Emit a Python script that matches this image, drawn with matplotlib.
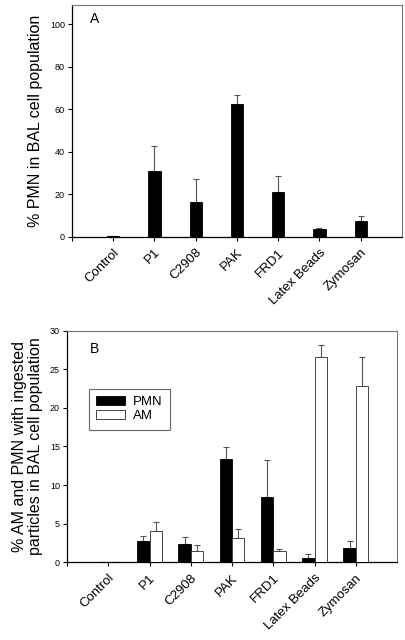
import numpy as np
import matplotlib
matplotlib.use("Agg")
import matplotlib.pyplot as plt

plt.rcParams['font.family'] = ['Liberation Sans', 'DejaVu Sans']

# data
groups = ['Control', 'P1', 'C2908', 'PAK', 'FRD1', 'Latex Beads', 'Zymosan']

pmn_pct = [0.4, 31.0, 16.5, 62.3, 21.3, 3.8, 7.2]
pmn_pct_err = [0.0, 11.9, 10.5, 4.3, 7.1, 0.5, 2.8]

pmn_ingest = [0.0, 2.8, 2.4, 13.4, 8.4, 0.6, 1.8]
pmn_ingest_err = [0.0, 0.65, 0.85, 1.5, 4.8, 0.5, 0.9]
am_ingest = [0.0, 4.1, 1.4, 3.1, 1.4, 26.6, 22.8]
am_ingest_err = [0.0, 1.15, 0.9, 1.2, 0.3, 1.5, 3.8]

x = np.arange(len(groups))
w = 0.3
ecol = '#555555'


def style_axes(ax, ymax, yticks):
    ax.set_xlim(-1, len(groups))
    ax.set_ylim(0, ymax)
    ax.set_yticks(yticks)
    ax.set_xticks(x)
    ax.set_xticks([-1], minor=True)
    ax.set_xticklabels(groups, rotation=45, ha='right', rotation_mode='anchor', fontsize=9.5)
    ax.tick_params(axis='y', labelsize=6.5, length=3, width=0.8, pad=2)
    ax.tick_params(axis='x', length=3, width=0.8, pad=4)
    ax.tick_params(axis='x', which='minor', length=3, width=0.8)
    for s in ['top', 'right']:
        ax.spines[s].set_color('#777777')
        ax.spines[s].set_linewidth(0.8)
    for s in ['left', 'bottom']:
        ax.spines[s].set_linewidth(0.9)


fig = plt.figure(figsize=(4.06, 6.4), dpi=100)

# panel A
ax1 = fig.add_axes([0.1773, 0.630, 0.8127, 0.362])
ax1.bar(x, pmn_pct, w, color='black', edgecolor='black', linewidth=0.6, zorder=3)
ax1.errorbar(x, pmn_pct, yerr=[np.zeros(len(x)), pmn_pct_err], fmt='none',
             ecolor=ecol, elinewidth=0.8, capsize=2.5, capthick=0.8, zorder=2)
style_axes(ax1, 109, [0, 20, 40, 60, 80, 100])
ax1.set_ylabel('% PMN in BAL cell population', fontsize=11.5, labelpad=5)
ax1.text(0.055, 0.94, 'A', transform=ax1.transAxes, fontsize=10, va='center')

# panel B
ax2 = fig.add_axes([0.165, 0.1214, 0.813, 0.3619])
ax2.bar(x - w / 2, pmn_ingest, w, color='black', edgecolor='black',
        linewidth=0.6, label='PMN', zorder=3)
ax2.bar(x + w / 2, am_ingest, w, color='white', edgecolor='#444444',
        linewidth=0.7, label='AM', zorder=3)
ax2.errorbar(x - w / 2, pmn_ingest, yerr=[np.zeros(len(x)), pmn_ingest_err], fmt='none',
             ecolor=ecol, elinewidth=0.8, capsize=2.5, capthick=0.8, zorder=2)
ax2.errorbar(x + w / 2, am_ingest, yerr=[np.zeros(len(x)), am_ingest_err], fmt='none',
             ecolor=ecol, elinewidth=0.8, capsize=2.5, capthick=0.8, zorder=2)
style_axes(ax2, 30, [0, 5, 10, 15, 20, 25, 30])
ax2.set_ylabel('% AM and PMN with ingested\nparticles in BAL cell population',
               fontsize=11.5, labelpad=5, linespacing=1.1)
ax2.text(0.07, 0.92, 'B', transform=ax2.transAxes, fontsize=10, va='center')
leg = ax2.legend(loc='upper left', bbox_to_anchor=(0.067, 0.748), fontsize=9.5,
                 frameon=True, fancybox=False, edgecolor='#444444', borderaxespad=0,
                 handlelength=2.2, handleheight=0.6, handletextpad=0.55,
                 borderpad=0.55, labelspacing=0.15)
leg.get_frame().set_linewidth(0.8)

fig.savefig('out.png', dpi=100)
